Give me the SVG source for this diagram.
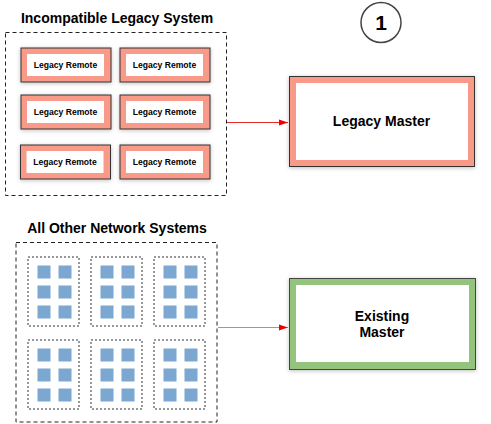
<svg xmlns="http://www.w3.org/2000/svg" width="491" height="424" viewBox="0 0 491 424">
<defs>
<style>
text{font-family:"Liberation Sans",Arial,sans-serif;font-weight:bold;fill:#000;text-anchor:middle}
.title{font-size:14px}
.rem-out{fill:#f99a88;stroke:#333;stroke-width:1}
.rem-in{fill:#fff}
.rem-t{font-size:8.6px}
.grp{fill:none;stroke:#222;stroke-width:1;stroke-dasharray:4,3}
.sub{fill:none;stroke:#333;stroke-width:1;stroke-dasharray:2,2}
.sq{fill:#7ba7d0}
.conn{stroke:#e52a2a;stroke-width:1;fill:none}
</style>
<filter id="sh" x="-20%" y="-20%" width="140%" height="140%">
<feDropShadow dx="0" dy="1" stdDeviation="2" flood-color="#000" flood-opacity="0.25"/>
</filter>
<marker id="ah" markerWidth="10" markerHeight="8" refX="9" refY="4" orient="auto" markerUnits="userSpaceOnUse">
<path d="M0,1 L9,4 L0,7 z" fill="#e00"/>
</marker>
<g id="rem">
<rect class="rem-out" x="0" y="0" width="90" height="34" filter="url(#sh)"/>
<rect class="rem-in" x="6" y="6" width="77" height="22"/>
<text class="rem-t" x="44.5" y="20.2">Legacy Remote</text>
</g>
<g id="cluster">
<rect class="sub" x="0" y="0" width="51" height="69"/>
<rect class="sq" x="9.5" y="8.5" width="13" height="13"/>
<rect class="sq" x="30.5" y="8.5" width="13" height="13"/>
<rect class="sq" x="9.5" y="28.5" width="13" height="13"/>
<rect class="sq" x="30.5" y="28.5" width="13" height="13"/>
<rect class="sq" x="9.5" y="48.5" width="13" height="13"/>
<rect class="sq" x="30.5" y="48.5" width="13" height="13"/>
</g>
</defs>
<rect width="491" height="424" fill="#fff"/>

<g id="legacy-system">
<text class="title" x="117" y="23">Incompatible Legacy System</text>
<rect class="grp" x="5.5" y="32.5" width="221" height="163"/>
<g id="remote1"><use href="#rem" x="21" y="48"/></g>
<g id="remote2"><use href="#rem" x="120" y="48"/></g>
<g id="remote3"><use href="#rem" x="21" y="95"/></g>
<g id="remote4"><use href="#rem" x="120" y="95"/></g>
<g id="remote5"><use href="#rem" x="20.5" y="145"/></g>
<g id="remote6"><use href="#rem" x="120" y="145"/></g>
</g>

<g id="step1">
<circle cx="381" cy="22.5" r="20" fill="#fff" stroke="#444" stroke-width="1.5"/>
<text x="381" y="30" style="font-size:21px">1</text>
</g>

<g id="legacy-master">
<rect x="289.5" y="76.5" width="185" height="90" fill="#f99a88" stroke="#333" stroke-width="1" filter="url(#sh)"/>
<rect x="296" y="83" width="172" height="77" fill="#fff"/>
<text class="title" x="381.5" y="126">Legacy Master</text>
</g>

<g id="network-systems">
<text class="title" x="117" y="233">All Other Network Systems</text>
<rect class="grp" x="16" y="242.5" width="201" height="179.5"/>
<g id="cluster1"><use href="#cluster" x="28" y="257"/></g>
<g id="cluster2"><use href="#cluster" x="91" y="257"/></g>
<g id="cluster3"><use href="#cluster" x="154" y="257"/></g>
<g id="cluster4"><use href="#cluster" x="28" y="340"/></g>
<g id="cluster5"><use href="#cluster" x="91" y="340"/></g>
<g id="cluster6"><use href="#cluster" x="154" y="340"/></g>
</g>

<g id="existing-master">
<rect x="289.5" y="278.5" width="186" height="91" fill="#93c47d" stroke="#444" stroke-width="1" filter="url(#sh)"/>
<rect x="296" y="285" width="173" height="77" fill="#fff"/>
<text class="title" x="382" y="321">Existing</text>
<text class="title" x="382" y="337">Master</text>
</g>

<g id="connectors">
<line class="conn" x1="227" y1="122.5" x2="288" y2="122.5" marker-end="url(#ah)"/>
<line class="conn" x1="218" y1="327.5" x2="288" y2="327.5" stroke="#f77" style="stroke:#f47474" marker-end="url(#ah)"/>
</g>
</svg>
